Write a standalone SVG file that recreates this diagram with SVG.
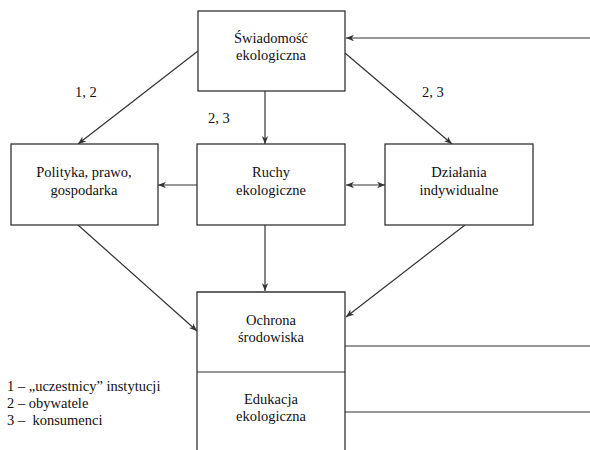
<svg xmlns="http://www.w3.org/2000/svg" width="590" height="450" viewBox="0 0 590 450">
<style>
.box{fill:#fff;stroke:#333;stroke-width:1.3}
.ln{fill:none;stroke:#333;stroke-width:1.2}
.t{font-family:"Liberation Serif","Times New Roman",serif;font-size:14.5px;fill:#111;text-anchor:middle}
.l{font-family:"Liberation Serif","Times New Roman",serif;font-size:14.5px;fill:#111}
</style>
<defs>
<marker id="ah" viewBox="0 0 10 10" refX="10" refY="5" markerWidth="8" markerHeight="8" markerUnits="userSpaceOnUse" orient="auto-start-reverse">
<path d="M0,1 L10,5 L0,9 L3,5 Z" fill="#333"/>
</marker>
</defs>
<rect width="590" height="450" fill="#fff"/>
<g id="connectors">
<line class="ln" x1="590" y1="38" x2="346" y2="38" marker-end="url(#ah)"/>
<line class="ln" x1="198" y1="51" x2="78" y2="144" marker-end="url(#ah)"/>
<line class="ln" x1="345" y1="53" x2="452" y2="144" marker-end="url(#ah)"/>
<line class="ln" x1="265" y1="91" x2="265" y2="144" marker-end="url(#ah)"/>
<line class="ln" x1="197" y1="185" x2="158" y2="185" marker-end="url(#ah)"/>
<line class="ln" x1="346" y1="185" x2="385" y2="185" marker-start="url(#ah)" marker-end="url(#ah)"/>
<line class="ln" x1="265" y1="225" x2="265" y2="291" marker-end="url(#ah)"/>
<line class="ln" x1="78" y1="225" x2="197" y2="331" marker-end="url(#ah)"/>
<line class="ln" x1="465" y1="225" x2="346" y2="317" marker-end="url(#ah)"/>
<line class="ln" x1="345" y1="346" x2="590" y2="346"/>
<line class="ln" x1="345" y1="412" x2="590" y2="412"/>
</g>
<g id="swiadomosc">
<rect class="box" x="198" y="11" width="147" height="80"/>
<text class="t" x="271" y="43">Świadomość</text>
<text class="t" x="271" y="60">ekologiczna</text>
</g>
<g id="polityka">
<rect class="box" x="11" y="144" width="147" height="81"/>
<text class="t" x="84" y="177">Polityka, prawo,</text>
<text class="t" x="84" y="195">gospodarka</text>
</g>
<g id="ruchy">
<rect class="box" x="197" y="144" width="148" height="81"/>
<text class="t" x="271" y="177">Ruchy</text>
<text class="t" x="271" y="195">ekologiczne</text>
</g>
<g id="dzialania">
<rect class="box" x="385" y="144" width="148" height="81"/>
<text class="t" x="459" y="177">Działania</text>
<text class="t" x="459" y="195">indywidualne</text>
</g>
<g id="ochrona">
<path class="box" d="M197,452 V292 H345 V452"/>
<text class="t" x="271" y="325">Ochrona</text>
<text class="t" x="271" y="342">środowiska</text>
</g>
<g id="edukacja">
<line class="ln" x1="197" y1="372" x2="345" y2="372"/>
<text class="t" x="271" y="404">Edukacja</text>
<text class="t" x="271" y="421">ekologiczna</text>
</g>
<g id="labels">
<text class="l" x="75" y="97">1, 2</text>
<text class="l" x="208" y="123">2, 3</text>
<text class="l" x="422" y="97">2, 3</text>
</g>
<g id="legend">
<text class="l" x="7" y="391">1 – „uczestnicy” instytucji</text>
<text class="l" x="7" y="408">2 – obywatele</text>
<text class="l" x="7" y="425" xml:space="preserve">3 –  konsumenci</text>
</g>
</svg>
